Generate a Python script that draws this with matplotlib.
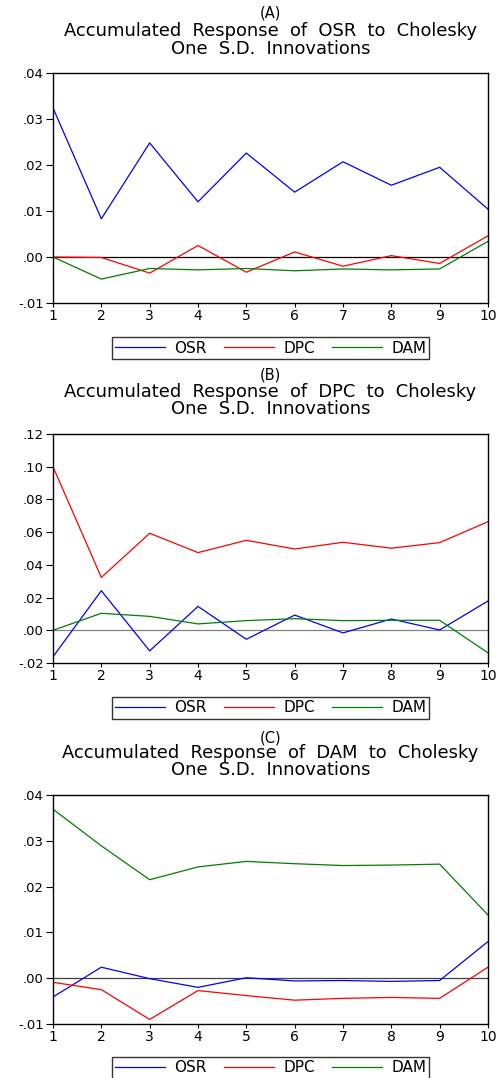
import matplotlib
matplotlib.use("Agg")
import matplotlib.pyplot as plt
from matplotlib.ticker import FuncFormatter, MultipleLocator

plt.rcParams['font.family'] = ['DejaVu Sans']

periods = list(range(1, 11))
names = ["OSR", "DPC", "DAM"]
colors = {"OSR": "#0000FF", "DPC": "#FF0000", "DAM": "#008000"}

# accumulated responses of OSR
osr_osr = [0.0324, 0.0083, 0.0248, 0.0120, 0.0226, 0.0141, 0.0207, 0.0156, 0.0195, 0.0104]
osr_dpc = [0.0000, -0.0001, -0.0035, 0.0025, -0.0033, 0.0011, -0.0020, 0.0003, -0.0014, 0.0046]
osr_dam = [0.0000, -0.0048, -0.0025, -0.0028, -0.0025, -0.0030, -0.0026, -0.0028, -0.0026, 0.0034]

# accumulated responses of DPC
dpc_osr = [-0.0162, 0.0242, -0.0126, 0.0146, -0.0055, 0.0093, -0.0016, 0.0069, 0.0002, 0.0179]
dpc_dpc = [0.1000, 0.0323, 0.0593, 0.0475, 0.0550, 0.0497, 0.0538, 0.0502, 0.0536, 0.0664]
dpc_dam = [0.0000, 0.0104, 0.0085, 0.0039, 0.0059, 0.0071, 0.0059, 0.0061, 0.0061, -0.0138]

# accumulated responses of DAM
dam_osr = [-0.0041, 0.0024, -0.0001, -0.0020, 0.0001, -0.0006, -0.0005, -0.0007, -0.0005, 0.0080]
dam_dpc = [-0.0009, -0.0025, -0.0090, -0.0027, -0.0038, -0.0048, -0.0044, -0.0042, -0.0044, 0.0024]
dam_dam = [0.0369, 0.0289, 0.0215, 0.0243, 0.0255, 0.0250, 0.0246, 0.0247, 0.0249, 0.0138]

panels = [
    ("(A)", "OSR", [osr_osr, osr_dpc, osr_dam], (-0.01, 0.04), 0.01, "black"),
    ("(B)", "DPC", [dpc_osr, dpc_dpc, dpc_dam], (-0.02, 0.12), 0.02, "#808080"),
    ("(C)", "DAM", [dam_osr, dam_dpc, dam_dam], (-0.01, 0.04), 0.01, "#404040"),
]

W, H = 498, 1078
fig = plt.figure(figsize=(W / 100, H / 100), dpi=100)

# pixel layout: axes top/bottom, title rows, legend row
axes_px = [(73, 303), (434, 663), (795, 1024)]
title_px = [(13, 31, 49), (375, 392, 409), (738, 753, 770)]
legend_px = [348, 708, 1068]
left, right = 53, 488


def fmt(v, pos):
    s = "%.2f" % v
    return s.replace("0.", ".")


for (tag, target, series, ylim, step, zc), (top, bot), (ty0, ty1, ty2), ly in zip(
        panels, axes_px, title_px, legend_px):
    ax = fig.add_axes([left / W, (H - bot) / H, (right - left) / W, (bot - top) / H])
    for name, vals in zip(names, series):
        ax.plot(periods, vals, color=colors[name], lw=0.9, label=name)
    ax.axhline(0, color=zc, lw=0.9, zorder=1)
    ax.set_xlim(1, 10)
    ax.set_ylim(*ylim)
    ax.xaxis.set_major_locator(MultipleLocator(1))
    ax.yaxis.set_major_locator(MultipleLocator(step))
    ax.yaxis.set_major_formatter(FuncFormatter(fmt))
    ax.tick_params(axis="x", direction="out", length=3, width=0.8, labelsize=10, pad=1)
    ax.tick_params(axis="y", direction="out", length=5, width=0.8, labelsize=9.5, pad=1.5)
    for sp in ax.spines.values():
        sp.set_linewidth(1.0)

    cx = (left + right) / 2 / W
    fig.text(cx, 1 - ty0 / H, tag, ha="center", va="center", fontsize=10.5)
    fig.text(cx, 1 - ty1 / H, "Accumulated  Response  of  %s  to  Cholesky" % target,
             ha="center", va="center", fontsize=12.9)
    fig.text(cx, 1 - ty2 / H, "One  S.D.  Innovations", ha="center", va="center", fontsize=12.9)

    leg = ax.legend(loc="center", bbox_to_anchor=(cx, 1 - ly / H),
                    bbox_transform=fig.transFigure, ncol=3, fontsize=11,
                    frameon=True, fancybox=False, handlelength=3.3,
                    handletextpad=0.6, columnspacing=1.1, borderpad=0.2)
    leg.get_frame().set_edgecolor("black")
    leg.get_frame().set_linewidth(1.0)

fig.savefig("out.png", dpi=100)
